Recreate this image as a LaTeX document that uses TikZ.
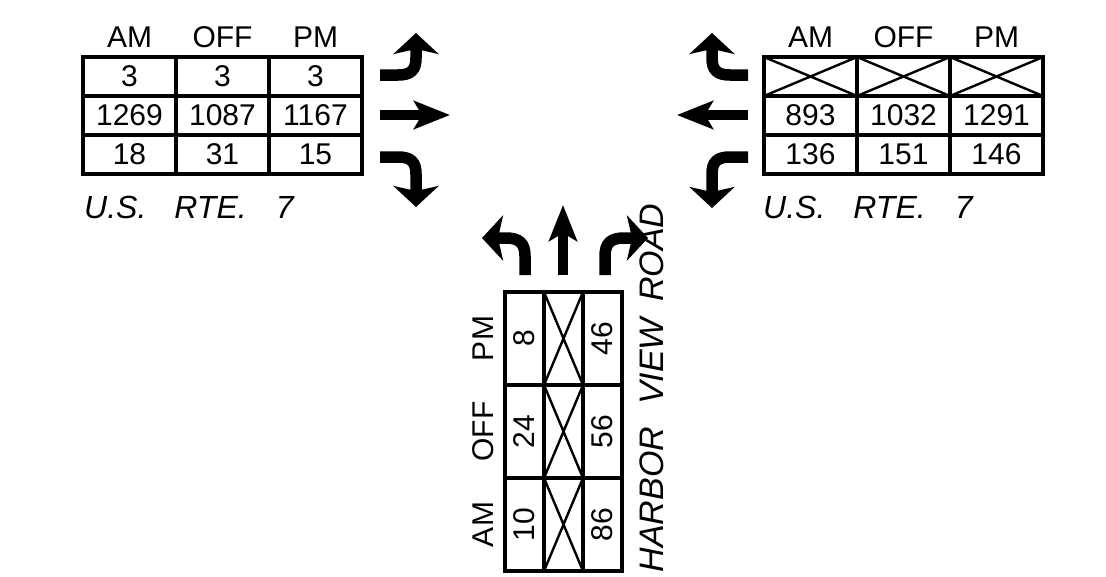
\documentclass[tikz,border=0pt]{standalone}
\usepackage{fontspec}
\setmainfont{Liberation Sans}
\usetikzlibrary{arrows.meta,positioning}
\tikzset{
    countcell/.style={rectangle,draw,line width=3.2pt,outer sep=0pt,inner sep=0pt,minimum width=93pt,minimum height=39pt,font=\fontsize{30}{30}\selectfont},
    countcellv/.style={countcell,rotate=90},
    periodlabel/.style={inner sep=0pt,font=\fontsize{30}{30}\selectfont},
    roadlabel/.style={inner sep=0pt,font=\fontsize{32}{32}\selectfont\itshape},
    crossline/.style={line width=2.4pt},
    turnarrow/.style={-{Stealth[length=21pt,width=45pt,inset=5pt]},line width=11.5pt},
    thruarrow/.style={-{Stealth[length=36pt,width=28pt,inset=8pt]},line width=10.5pt}
}

\begin{document}
\begin{tikzpicture}[x=1pt,y=-1pt]
            \useasboundingbox (0,0) rectangle (1106,576);
            % U.S. Rte. 7 eastbound
            \node[countcell] (l11) at (129.5,76.5) {3};
            \node[countcell,right=0pt of l11] (l12) {3};
            \node[countcell,right=0pt of l12] (l13) {3};
            \node[countcell,below=0pt of l11] (l21) {1269};
            \node[countcell,right=0pt of l21] (l22) {1087};
            \node[countcell,right=0pt of l22] (l23) {1167};
            \node[countcell,below=0pt of l21] (l31) {18};
            \node[countcell,right=0pt of l31] (l32) {31};
            \node[countcell,right=0pt of l32] (l33) {15};
            \node[periodlabel,above=9pt of l11] (lam) {AM};
            \node[periodlabel,above=9pt of l12] (loff) {OFF};
            \node[periodlabel,above=9pt of l13] (lpm) {PM};
            \node[roadlabel,anchor=base west] (lroad) at (84,218) {U.S.\hspace{28pt}RTE.\hspace{29pt}7};
            \draw[turnarrow] (380,75) -- (398,75) .. controls (411,75) and (416,70) .. (416,58) -- (416,33);
            \draw[thruarrow] (380,115) -- (450,115);
            \draw[turnarrow] (380,157) -- (398,157) .. controls (411,157) and (416,162) .. (416,174) -- (416,207);
            % U.S. Rte. 7 westbound
            \node[countcell] (r11) at (810.5,76.5) {};
            \node[countcell,right=0pt of r11] (r12) {};
            \node[countcell,right=0pt of r12] (r13) {};
            \node[countcell,below=0pt of r11] (r21) {893};
            \node[countcell,right=0pt of r21] (r22) {1032};
            \node[countcell,right=0pt of r22] (r23) {1291};
            \node[countcell,below=0pt of r21] (r31) {136};
            \node[countcell,right=0pt of r31] (r32) {151};
            \node[countcell,right=0pt of r32] (r33) {146};
            \node[periodlabel,above=9pt of r11] (ram) {AM};
            \node[periodlabel,above=9pt of r12] (roff) {OFF};
            \node[periodlabel,above=9pt of r13] (rpm) {PM};
            \node[roadlabel,anchor=base west] (rroad) at (763,218) {U.S.\hspace{28pt}RTE.\hspace{29pt}7};
            \draw[crossline] (r11.north west) -- (r11.south east) (r11.south west) -- (r11.north east);
            \draw[crossline] (r12.north west) -- (r12.south east) (r12.south west) -- (r12.north east);
            \draw[crossline] (r13.north west) -- (r13.south east) (r13.south west) -- (r13.north east);
            \draw[turnarrow] (748,75) -- (730,75) .. controls (717,75) and (712,70) .. (712,58) -- (712,33);
            \draw[thruarrow] (748,115) -- (677,115);
            \draw[turnarrow] (748,157) -- (730,157) .. controls (717,157) and (712,162) .. (712,174) -- (712,208);
            % Harbor View Road northbound
            \node[countcellv] (b11) at (524.5,338.5) {8};
            \node[countcellv] (b12) at (563.5,338.5) {};
            \node[countcellv] (b13) at (602.5,338.5) {46};
            \node[countcellv] (b21) at (524.5,431.5) {24};
            \node[countcellv] (b22) at (563.5,431.5) {};
            \node[countcellv] (b23) at (602.5,431.5) {56};
            \node[countcellv] (b31) at (524.5,524.5) {10};
            \node[countcellv] (b32) at (563.5,524.5) {};
            \node[countcellv] (b33) at (602.5,524.5) {86};
            \node[periodlabel,rotate=90] (bpm) at (483,338.5) {PM};
            \node[periodlabel,rotate=90] (boff) at (483,431.5) {OFF};
            \node[periodlabel,rotate=90] (bam) at (483,524.5) {AM};
            \node[roadlabel,rotate=90,font=\fontsize{34}{34}\selectfont\itshape] (broad) at (652,388) {HARBOR\hspace{22pt}VIEW\hspace{16pt}ROAD};
            \draw[crossline] (b12.north west) -- (b12.south east) (b12.south west) -- (b12.north east);
            \draw[crossline] (b22.north west) -- (b22.south east) (b22.south west) -- (b22.north east);
            \draw[crossline] (b32.north west) -- (b32.south east) (b32.south west) -- (b32.north east);
            \draw[turnarrow] (525,275) -- (525,256) .. controls (525,243) and (519,238) .. (506,238) -- (482,238);
            \draw[thruarrow] (563,275) -- (563,205);
            \draw[turnarrow] (605,275) -- (605,256) .. controls (605,243) and (611,238) .. (624,238) -- (648,238);
        \end{tikzpicture}
\end{document}
